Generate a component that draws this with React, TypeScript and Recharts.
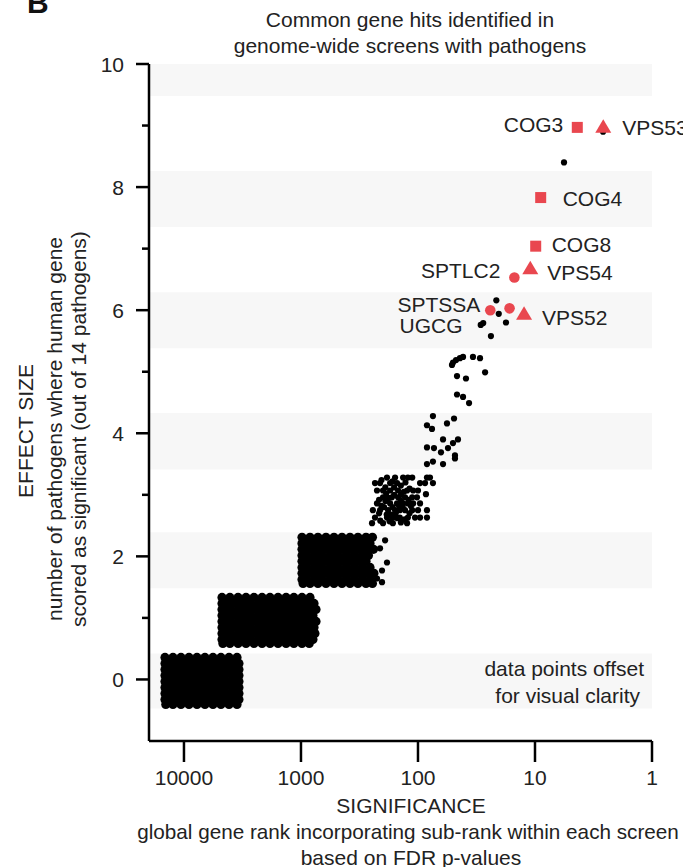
import React from 'react';
import { ScatterChart, Scatter, XAxis, YAxis, ReferenceArea } from 'recharts';

const FONT = '"Liberation Sans", Arial, Helvetica, sans-serif';
const RED = '#e9474f';
const TEXT = '#222';
const FS = 21;

// axes
const xTicks = [10000, 1000, 100, 10, 1];
const yTicks = [0, 1, 2, 3, 4, 5, 6, 7, 8, 9, 10];
const yTickLabels = ['0', '', '2', '', '4', '', '6', '', '8', '', '10'];

// shaded bands behind the levels
const bandLow = [-0.47, 1.48, 3.41, 5.38, 7.35, 9.48];
const bandHigh = [0.42, 2.39, 4.33, 6.29, 8.26, 10];

// dense clouds: [effect, ranks of the points in that row]
const level0Rows: [number, number[]][] = [
  [0.358, [14530, 12420, 10610, 9060, 7740, 6620, 5650, 4830, 4120, 3520]],
  [0.26, [14530, 13430, 11470, 9800, 8380, 7160, 6110, 5220, 4470, 3810, 3390]],
  [0.163, [14530, 12420, 10610, 9060, 7740, 6620, 5650, 4830, 4120, 3520, 3390]],
  [0.065, [14530, 13430, 11470, 9800, 8380, 7160, 6110, 5220, 4470, 3810, 3390]],
  [-0.033, [14530, 12420, 10610, 9060, 7740, 6620, 5650, 4830, 4120, 3520, 3390]],
  [-0.13, [14530, 13430, 11470, 9800, 8380, 7160, 6110, 5220, 4470, 3810, 3390]],
  [-0.228, [14530, 12420, 10610, 9060, 7740, 6620, 5650, 4830, 4120, 3520, 3390]],
  [-0.325, [14530, 13430, 11470, 9800, 8380, 7160, 6110, 5220, 4470, 3810, 3390]],
  [-0.407, [14300, 12420, 10610, 9060, 7740, 6620, 5650, 4830, 4120, 3520]],
];

const level1Rows: [number, number[]][] = [
  [1.333, [4730, 4050, 3450, 2950, 2520, 2150, 1840, 1570, 1340, 1150, 980, 837]],
  [1.236, [4730, 4380, 3740, 3190, 2730, 2330, 1990, 1700, 1450, 1240, 1060, 906, 774]],
  [1.138, [4730, 4050, 3450, 2950, 2520, 2150, 1840, 1570, 1340, 1150, 980, 837, 744]],
  [1.041, [4730, 4380, 3740, 3190, 2730, 2330, 1990, 1700, 1450, 1240, 1060, 906, 790]],
  [0.943, [4730, 4050, 3450, 2950, 2520, 2150, 1840, 1570, 1340, 1150, 980, 837, 744]],
  [0.846, [4730, 4380, 3740, 3190, 2730, 2330, 1990, 1700, 1450, 1240, 1060, 906, 774]],
  [0.748, [4730, 4050, 3450, 2950, 2520, 2150, 1840, 1570, 1340, 1150, 980, 837, 760]],
  [0.65, [4730, 4380, 3740, 3190, 2730, 2330, 1990, 1700, 1450, 1240, 1060, 906, 790]],
  [0.585, [4650, 4050, 3450, 2950, 2520, 2150, 1840, 1570, 1340, 1150, 980, 850]],
];

const level2Rows: [number, number[]][] = [
  [2.309, [980, 837, 716, 611, 522, 446, 381, 326, 278, 245]],
  [2.211, [980, 906, 774, 662, 565, 483, 412, 352, 301, 257]],
  [2.114, [980, 837, 716, 611, 522, 446, 381, 326, 278, 240]],
  [2.016, [980, 906, 774, 662, 565, 483, 412, 352, 301, 265]],
  [1.919, [980, 837, 716, 611, 522, 446, 381, 326, 278]],
  [1.821, [980, 906, 774, 662, 565, 483, 412, 352, 301, 257]],
  [1.724, [980, 837, 716, 611, 522, 446, 381, 326, 278, 238]],
  [1.626, [980, 906, 774, 662, 565, 483, 412, 352, 301, 257]],
  [1.561, [960, 837, 716, 611, 522, 446, 381, 326, 278, 245]],
];

// sparse genes: [rank, effect]
const level2Edge: [number, number][] = [
  [191, 2.26], [211, 2.13], [184, 1.9], [203, 1.77], [224, 1.64], [203, 1.58],
];

const level3Points: [number, number][] = [
  [184, 3.28], [157, 3.28], [134, 3.28], [122, 3.28], [112, 3.28], [83.8, 3.28], [79, 3.28],
  [233, 3.19], [211, 3.19], [173, 3.19], [151, 3.19], [96, 3.19], [87, 3.19], [74.5, 3.19],
  [224, 3.07], [199, 3.07], [173, 3.07], [148, 3.07], [124, 3.07], [110, 3.07], [100, 3.07], [85.5, 3.01],
  [199, 2.96], [167, 2.96], [148, 2.96], [129, 2.96], [112, 2.96], [102, 2.96],
  [224, 2.86], [173, 2.86], [151, 2.86], [134, 2.86], [122, 2.86], [110, 2.86], [96, 2.86],
  [243, 2.75], [211, 2.75], [180, 2.75], [157, 2.75], [143, 2.75], [129, 2.75], [112, 2.75], [100, 2.75], [83.8, 2.75],
  [233, 2.63], [184, 2.63], [164, 2.63], [143, 2.63], [122, 2.63], [106, 2.63], [96, 2.63], [83.8, 2.63],
  [247, 2.54], [199, 2.54], [164, 2.54], [124, 2.54],
  [160, 3.12], [140, 3.0], [135, 2.8], [155, 2.7], [170, 2.68], [190, 2.9], [205, 2.82], [118, 2.7], [190, 3.12], [140, 3.15],
  [205, 3.24], [165, 3.22], [128, 3.2], [187, 3.02], [160, 3.0], [132, 3.05], [118, 3.1], [215, 2.92],
  [178, 2.95], [140, 2.9], [120, 2.92], [195, 2.8], [165, 2.8], [145, 2.82], [115, 2.82], [215, 2.7],
  [185, 2.68], [150, 2.62], [130, 2.6], [210, 2.58], [175, 2.57], [140, 2.55],
];

const level4Points: [number, number][] = [
  [74.5, 4.28], [83.8, 4.13], [75.9, 4.07], [56.5, 4.16], [49.2, 4.24], [61.1, 3.9], [45.5, 3.9],
  [50.2, 3.84], [55.4, 3.76], [63.6, 3.69], [83.8, 3.77], [73.0, 3.76], [48.3, 3.64], [48.3, 3.59],
  [74.5, 3.54], [83.8, 3.5], [61.1, 3.5],
];

const level5Points: [number, number][] = [
  [41.2, 5.24], [43.8, 5.22], [50.2, 5.15], [51.2, 5.11], [33.9, 5.24], [29.5, 5.22], [26.7, 4.99],
  [46.4, 4.93], [38.9, 4.89], [46.4, 4.63], [41.2, 4.59], [36.6, 4.49], [47.3, 5.19],
];

const level6Points: [number, number][] = [
  [21.4, 6.16], [20.4, 5.94], [17.7, 5.8], [27.7, 5.79], [29.1, 5.76], [23.8, 5.58],
];

const topPoints: [number, number][] = [[5.65, 8.4], [2.62, 8.9]];

// labelled common hits
const hitNames = ['COG3', 'VPS53', 'COG4', 'COG8', 'VPS54', 'SPTLC2', 'SPTSSA', 'UGCG', 'VPS52'];
const hitRanks = [4.35, 2.61, 8.94, 9.86, 10.97, 15.0, 24.1, 16.5, 12.4];
const hitEffects = [8.97, 8.99, 7.83, 7.04, 6.69, 6.53, 6.0, 6.03, 5.95];
const hitGroups = ['COG', 'VPS', 'COG', 'COG', 'VPS', 'SPT', 'SPT', 'SPT', 'VPS'];

// label placement (style only)
const LABEL_STYLE: Record<string, { dx: number; dy: number; anchor: 'start' | 'end' }> = {
  COG3: { dx: -14, dy: -3, anchor: 'end' },
  VPS53: { dx: 19, dy: 1, anchor: 'start' },
  COG4: { dx: 22, dy: 1, anchor: 'start' },
  COG8: { dx: 16, dy: -2, anchor: 'start' },
  VPS54: { dx: 17, dy: 5, anchor: 'start' },
  SPTLC2: { dx: -14, dy: -7, anchor: 'end' },
  SPTSSA: { dx: -10, dy: -6, anchor: 'end' },
  UGCG: { dx: -47, dy: 17, anchor: 'end' },
  VPS52: { dx: 18, dy: 4, anchor: 'start' },
};

const rowsToPoints = (rows: [number, number[]][]) =>
  rows.flatMap(([y, ranks]) => ranks.map((x) => ({ x, y })));
const pairsToPoints = (pairs: [number, number][]) => pairs.map(([x, y]) => ({ x, y }));

const denseData = [...rowsToPoints(level0Rows), ...rowsToPoints(level1Rows), ...rowsToPoints(level2Rows)];
const sparseData = [
  ...pairsToPoints(level2Edge),
  ...pairsToPoints(level3Points),
  ...pairsToPoints(level4Points),
  ...pairsToPoints(level5Points),
  ...pairsToPoints(level6Points),
  ...pairsToPoints(topPoints),
];
const hitData = hitNames.map((name, i) => ({
  name,
  x: hitRanks[i],
  y: hitEffects[i],
  group: hitGroups[i],
}));

const dotShape = (r: number) => (props: any) => {
  const { cx, cy } = props;
  if (cx == null || cy == null) return <g />;
  return <circle cx={cx} cy={cy} r={r} fill="#000" />;
};

const HitShape = (props: any) => {
  const { cx, cy, payload } = props;
  if (cx == null || cy == null) return <g />;
  let marker;
  if (payload.group === 'COG') {
    marker = <rect x={cx - 5.5} y={cy - 5.5} width={11} height={11} fill={RED} />;
  } else if (payload.group === 'VPS') {
    marker = (
      <polygon points={`${cx},${cy - 7} ${cx + 8},${cy + 6.5} ${cx - 8},${cy + 6.5}`} fill={RED} />
    );
  } else {
    marker = <circle cx={cx} cy={cy} r={5.3} fill={RED} />;
  }
  const st = LABEL_STYLE[payload.name];
  return (
    <g>
      {marker}
      <text
        x={cx + st.dx}
        y={cy + st.dy}
        textAnchor={st.anchor}
        dominantBaseline="central"
        fontSize={FS}
        fontFamily={FONT}
        fill={TEXT}
      >
        {payload.name}
      </text>
    </g>
  );
};

const YTick = (props: any) => {
  const { x, y, payload } = props;
  const label = yTickLabels[yTicks.indexOf(payload.value)] ?? '';
  const len = label ? 13 : 7;
  return (
    <g>
      <line x1={x - len} x2={x} y1={y} y2={y} stroke="#000" strokeWidth={2.5} />
      {label ? (
        <text
          x={x - 25}
          y={y}
          textAnchor="end"
          dominantBaseline="central"
          fontSize={FS}
          fontFamily={FONT}
          fill={TEXT}
        >
          {label}
        </text>
      ) : null}
    </g>
  );
};

export default function App() {
  return (
    <div style={{ position: 'absolute', left: 0, top: 0, width: 683, height: 867, background: '#fff', fontFamily: FONT }}>
      <ScatterChart width={683} height={867} margin={{ top: 64, right: 31, bottom: 66, left: 0 }}>
        {bandLow.map((lo, i) => (
          <ReferenceArea key={i} y1={lo} y2={bandHigh[i]} fill="#f7f7f7" fillOpacity={1} stroke="none" />
        ))}
        <XAxis
          type="number"
          dataKey="x"
          scale="log"
          domain={[1, 19900]}
          reversed
          ticks={xTicks}
          interval={0}
          height={60}
          tickSize={21}
          tickMargin={8}
          axisLine={{ stroke: '#000', strokeWidth: 2.5 }}
          tickLine={{ stroke: '#000', strokeWidth: 2.5 }}
          tick={{ fontSize: FS, fill: TEXT, fontFamily: FONT }}
        />
        <YAxis
          type="number"
          dataKey="y"
          domain={[-1, 10]}
          ticks={yTicks}
          interval={0}
          width={149}
          tickSize={0}
          tickMargin={0}
          tickLine={false}
          axisLine={{ stroke: '#000', strokeWidth: 2.5 }}
          tick={<YTick />}
        />
        <Scatter data={denseData} shape={dotShape(4.6)} isAnimationActive={false} />
        <Scatter data={sparseData} shape={dotShape(3.1)} isAnimationActive={false} />
        <Scatter data={hitData} shape={<HitShape />} isAnimationActive={false} />
      </ScatterChart>
      <svg
        width={683}
        height={867}
        style={{ position: 'absolute', left: 0, top: 0, pointerEvents: 'none' }}
        fontFamily={FONT}
      >
        <text x={27} y={13} fontSize={30} fontWeight="bold" fill="#111">B</text>
        <text x={410} y={19} textAnchor="middle" dominantBaseline="central" fontSize={FS} fill={TEXT}>
          Common gene hits identified in
        </text>
        <text x={410} y={45} textAnchor="middle" dominantBaseline="central" fontSize={FS} fill={TEXT}>
          genome-wide screens with pathogens
        </text>
        <text x={644} y={668} textAnchor="end" dominantBaseline="central" fontSize={FS} fill={TEXT}>
          data points offset
        </text>
        <text x={640} y={695} textAnchor="end" dominantBaseline="central" fontSize={FS} fill={TEXT}>
          for visual clarity
        </text>
        <text x={411} y={805} textAnchor="middle" dominantBaseline="central" fontSize={FS} fill={TEXT}>
          SIGNIFICANCE
        </text>
        <text x={408} y={831} textAnchor="middle" dominantBaseline="central" fontSize={20.7} fill={TEXT}>
          global gene rank incorporating sub-rank within each screen
        </text>
        <text x={411} y={857} textAnchor="middle" dominantBaseline="central" fontSize={FS} fill={TEXT}>
          based on FDR p-values
        </text>
        <text
          transform="translate(25,431) rotate(-90)"
          textAnchor="middle"
          dominantBaseline="central"
          fontSize={FS}
          fill={TEXT}
        >
          EFFECT SIZE
        </text>
        <text
          transform="translate(54,429) rotate(-90)"
          textAnchor="middle"
          dominantBaseline="central"
          fontSize={FS}
          fill={TEXT}
        >
          number of pathogens where human gene
        </text>
        <text
          transform="translate(78,429) rotate(-90)"
          textAnchor="middle"
          dominantBaseline="central"
          fontSize={FS}
          fill={TEXT}
        >
          scored as significant (out of 14 pathogens)
        </text>
      </svg>
    </div>
  );
}
